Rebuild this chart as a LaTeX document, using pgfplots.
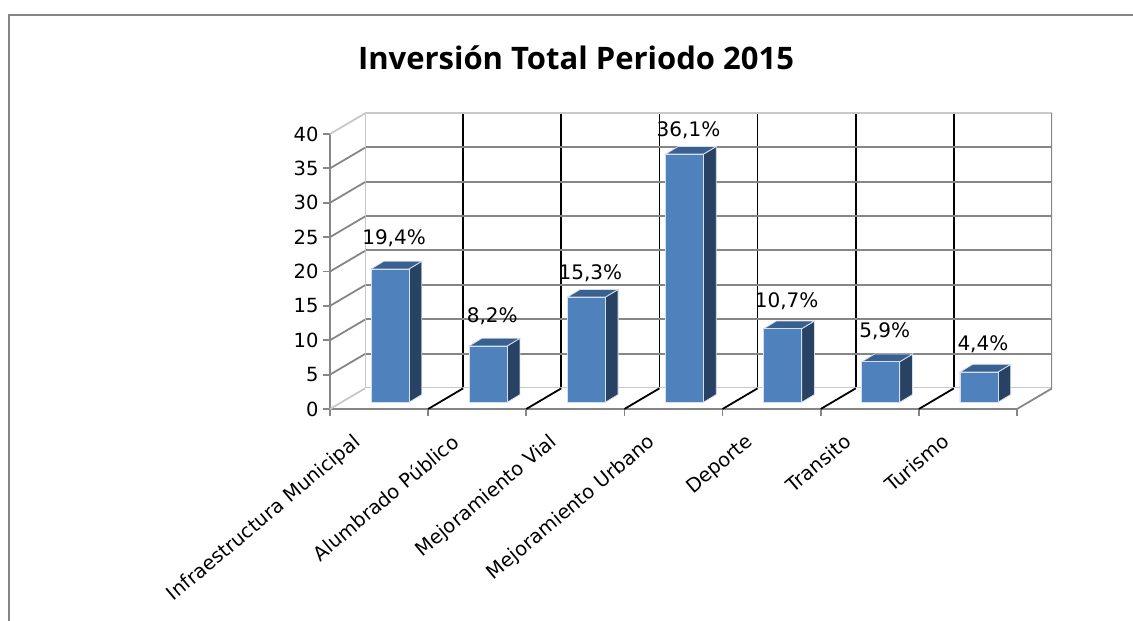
\documentclass[border=0pt]{standalone}
\usepackage{pgfplots}
\usepackage{pgfplotstable}
\usepackage{fontspec}
\setmainfont{DejaVu Sans}
\newfontfamily\titlefont{Open Sans}
\pgfplotsset{compat=1.18}
\definecolor{frontc}{HTML}{4F81BD}
\definecolor{sidec}{HTML}{284263}
\definecolor{topc}{HTML}{3A6090}
\definecolor{edgec}{HTML}{D5E0EE}
\definecolor{axgray}{HTML}{868686}
\definecolor{lightg}{HTML}{C8C8C8}
\pgfplotstableread{
x v lab dy
0 19.4 {19,4\%} 31
1 8.2 {8,2\%} 30
2 15.3 {15,3\%} 24
3 36.1 {36,1\%} 24
4 10.7 {10,7\%} 27
5 5.9 {5,9\%} 30
6 4.4 {4,4\%} 28
}\bardata
% one cube's side and top faces: x position, value
\newcommand{\cubefaces}[2]{%
  \pgfmathsetmacro{\xa}{#1+0.1936}%
  \pgfmathsetmacro{\xb}{#1+0.1936+0.13}%
  \pgfmathsetmacro{\xc}{#1-0.1936}%
  \pgfmathsetmacro{\xd}{#1-0.1936+0.13}%
  \pgfmathsetmacro{\yb}{#2+1.12}%
  \addplot[fill=sidec,draw=edgec,line width=0.8pt,sharp plot] coordinates {(\xa,0) (\xb,1.12) (\xb,\yb) (\xa,#2)} --cycle;
  \addplot[fill=topc,draw=edgec,line width=0.8pt,sharp plot] coordinates {(\xc,#2) (\xd,\yb) (\xb,\yb) (\xa,#2)} --cycle;
}
\begin{document}
\begin{tikzpicture}[x=1pt,y=1pt]
\useasboundingbox (0,0) rectangle (1133,621);
\draw[axgray,line width=2pt] (9,0) -- (9,606) -- (1133,606);
\node[font=\titlefont\bfseries\fontsize{31}{35}\selectfont,text=black] at (576,563) {Inversión Total Periodo 2015};
% back wall
\begin{axis}[at={(365pt,233pt)},anchor=south west,scale only axis,width=687pt,height=275pt,
  xmin=0,xmax=7,ymin=0,ymax=40,
  xtick={1,...,6},ytick={5,10,...,35},xticklabels={},yticklabels={},
  tick style={draw=none},
  xmajorgrids,ymajorgrids,
  x grid style={black,line width=1.8pt},
  y grid style={axgray,line width=2pt},
  axis line style={draw=none}]
\addplot[lightg,line width=1.8pt] coordinates {(0,0) (7,0)};
\addplot[lightg,line width=1.8pt] coordinates {(0,0) (0,40) (7,40)};
\addplot[axgray,line width=2pt] coordinates {(7,0) (7,40)};
\end{axis}
% front axes, floor and left wall
\begin{axis}[at={(330pt,212pt)},anchor=south west,scale only axis,width=687pt,height=275pt,
  xmin=0,xmax=7,ymin=0,ymax=40,clip=false,
  axis x line*=bottom,axis y line*=left,
  axis line style={axgray,line width=2pt,-},
  xtick={0,...,7},xticklabels={},ytick={0,5,...,40},
  tick style={axgray,line width=1.8pt},
  major tick length=7pt,tick align=outside,
  yticklabel style={font=\fontsize{19.5}{22}\selectfont,text=black,xshift=-1pt},
  /pgf/number format/assume math mode=true]
\foreach \yy in {5,10,...,35}{
  \edef\tmp{\noexpand\addplot[axgray,line width=1.8pt] coordinates {(0,\yy) (0.3566,\yy+3)};}\tmp
}
\addplot[lightg,line width=1.8pt] coordinates {(0,0) (0.3566,3)};
\addplot[lightg,line width=1.8pt] coordinates {(0,40) (0.3566,43)};
\foreach \xx in {1,...,6}{
  \edef\tmp{\noexpand\addplot[black,line width=1.8pt] coordinates {(\xx,0) (\xx+0.3566,3)};}\tmp
}
\addplot[axgray,line width=1.8pt] coordinates {(7,0) (7.3566,3)};
\end{axis}
% bars
\begin{axis}[at={(341pt,218.7pt)},anchor=south west,scale only axis,width=687pt,height=275pt,
  xmin=-0.5,xmax=6.5,ymin=0,ymax=40,clip=false,
  axis line style={draw=none},
  ytick=\empty,xtick={0,...,6},tick style={draw=none},
  xticklabels={Infraestructura Municipal,Alumbrado Público,Mejoramiento Vial,Mejoramiento Urbano,Deporte,Transito,Turismo},
  xticklabel style={font=\fontsize{19.5}{22}\selectfont,rotate=40,anchor=north east,xshift=-48.5pt,yshift=1.4pt,inner sep=0pt}]
\cubefaces{0}{19.4}
\cubefaces{1}{8.2}
\cubefaces{2}{15.3}
\cubefaces{3}{36.1}
\cubefaces{4}{10.7}
\cubefaces{5}{5.9}
\cubefaces{6}{4.4}
\addplot[ybar,bar width=38pt,fill=frontc,draw=edgec,line width=0.8pt,
  point meta=explicit symbolic,
  visualization depends on={\thisrow{dy} \as \dyv},
  nodes near coords,
  every node near coord/.append style={font=\fontsize{20}{22}\selectfont,text=black,xshift=4pt,yshift=\dyv pt,inner sep=0pt,anchor=center}]
  table[x=x,y=v,meta=lab] {\bardata};
\end{axis}
\end{tikzpicture}
\end{document}
